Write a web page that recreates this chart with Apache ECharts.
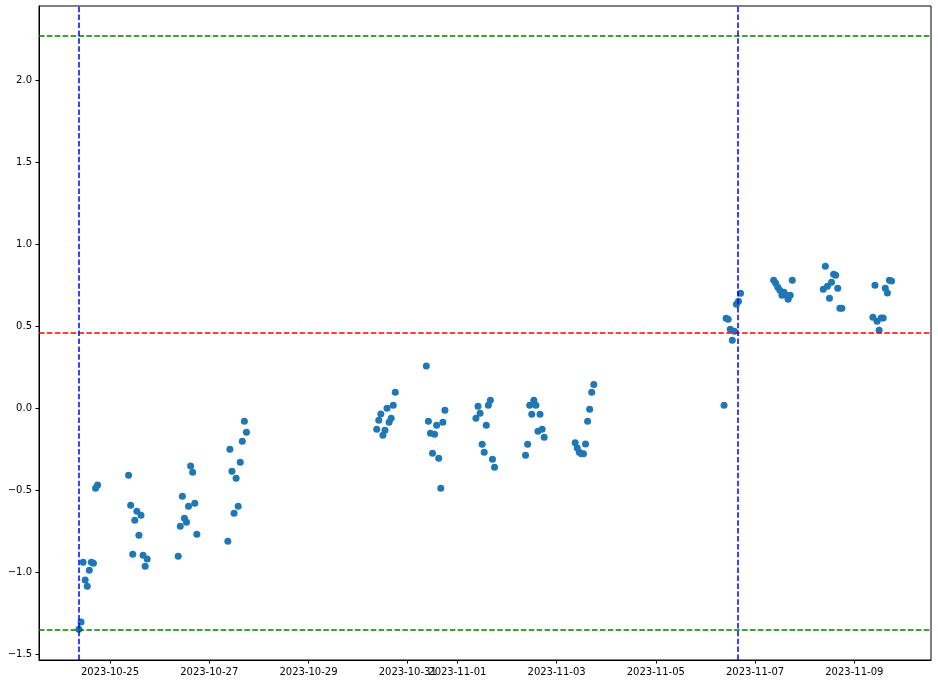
<!DOCTYPE html>
<html>
<head>
<meta charset="utf-8">
<script src="https://cdn.jsdelivr.net/npm/echarts@6/dist/echarts.min.js"></script>
<style>
  html, body { margin: 0; padding: 0; background: #fff; }
  #main { width: 938px; height: 683px; }
</style>
</head>
<body>
<div id="main"></div>
<script>
// trading days, one point per hour from 09:00
var days = ['2023-10-24', '2023-10-25', '2023-10-26', '2023-10-27',
            '2023-10-30', '2023-10-31', '2023-11-01', '2023-11-02', '2023-11-03',
            '2023-11-06', '2023-11-07', '2023-11-08', '2023-11-09'];
var hours = [9, 10, 11, 12, 13, 14, 15, 16, 17, 18];

var values = [
    [-1.35, -1.305, -0.941, -1.049, -1.087, -0.990, -0.941, -0.947, -0.490, -0.470],
    [-0.410, -0.593, -0.892, -0.685, -0.630, -0.776, -0.654, -0.898, -0.965, -0.921],
    [-0.904, -0.721, -0.538, -0.673, -0.697, -0.599, -0.354, -0.392, -0.581, -0.770],
    [-0.813, -0.252, -0.386, -0.642, -0.429, -0.599, -0.331, -0.203, -0.081, -0.148],
    [-0.130, -0.075, -0.037, -0.166, -0.136, -0.002, -0.087, -0.063, 0.016, 0.096],
    [0.256, -0.081, -0.154, -0.276, -0.160, -0.105, -0.307, -0.490, -0.087, -0.014],
    [-0.063, 0.010, -0.032, -0.221, -0.270, -0.105, 0.016, 0.047, -0.313, -0.362],
    [-0.288, -0.221, 0.016, -0.038, 0.047, 0.016, -0.142, -0.038, -0.130, -0.179],
    [-0.213, -0.245, -0.270, -0.280, -0.280, -0.220, -0.081, -0.008, 0.096, 0.143],
    [0.016, 0.547, 0.541, 0.480, 0.413, 0.468, 0.632, 0.651, 0.699],
    [0.779, 0.760, 0.736, 0.718, 0.687, 0.705, 0.687, 0.663, 0.687, 0.779],
    [0.724, 0.864, 0.742, 0.669, 0.766, 0.815, 0.809, 0.730, 0.608, 0.608],
    [0.553, 0.748, 0.529, 0.474, 0.549, 0.549, 0.730, 0.701, 0.779, 0.774]
];

var upperBand = 2.268;
var meanLine = 0.457;
var lowerBand = -1.354;
var markTimes = ['2023-10-24T09:00Z', '2023-11-06T15:45Z'];

var xTicks = ['2023-10-25', '2023-10-27', '2023-10-29', '2023-10-31', '2023-11-01',
              '2023-11-03', '2023-11-05', '2023-11-07', '2023-11-09'];
var yTicks = [-1.5, -1.0, -0.5, 0.0, 0.5, 1.0, 1.5, 2.0];

function utc(s) {
    return Date.parse(s.length == 10 ? s + 'T00:00Z' : s);
}
function pad(n) { return n < 10 ? '0' + n : '' + n; }

var points = [];
days.forEach(function (d, i) {
    values[i].forEach(function (v, j) {
        points.push([utc(d) + hours[j] * 3600e3, v]);
    });
});

var dash = [5.5, 2.4];
var fontStyle = { fontFamily: 'DejaVu Sans', fontSize: 10, color: '#000' };

var myChart = echarts.init(document.getElementById('main'));

var option = {
    animation: false,
    grid: {
        left: 39, right: 7, top: 6, bottom: 23,
        show: true, borderColor: '#000', borderWidth: 1,
        backgroundColor: 'transparent'
    },
    xAxis: {
        type: 'value',
        min: utc('2023-10-23T13:40Z'),
        max: utc('2023-11-10T13:06Z'),
        scale: true,
        splitLine: { show: false },
        axisLine: { onZero: false, lineStyle: { color: '#000', width: 1 } },
        axisTick: {
            show: true, inside: false, length: 3.5, lineStyle: { color: '#000' },
            customValues: xTicks.map(utc)
        },
        axisLabel: Object.assign({
            margin: 7,
            customValues: xTicks.map(utc),
            hideOverlap: false,
            formatter: function (v) {
                var d = new Date(v);
                return d.getUTCFullYear() + '-' + pad(d.getUTCMonth() + 1) + '-' + pad(d.getUTCDate());
            }
        }, fontStyle)
    },
    yAxis: {
        type: 'value',
        min: -1.537,
        max: 2.451,
        splitLine: { show: false },
        axisLine: { show: true, onZero: false, lineStyle: { color: '#000', width: 1 } },
        axisTick: {
            show: true, inside: false, length: 3.5, lineStyle: { color: '#000' },
            customValues: yTicks
        },
        axisLabel: Object.assign({
            margin: 7,
            customValues: yTicks,
            formatter: function (v) {
                return v.toFixed(1).replace('-', '\u2212');
            }
        }, fontStyle)
    },
    series: [
        {
            type: 'scatter',
            data: points,
            symbolSize: 7,
            itemStyle: { color: '#1f77b4', opacity: 1 },
            z: 2
        },
        {
            type: 'scatter',
            data: [],
            z: 3,
            markLine: {
                silent: true,
                symbol: 'none',
                label: { show: false },
                data: [
                    { yAxis: upperBand, lineStyle: { color: '#008000', type: dash, width: 1.5 } },
                    { yAxis: lowerBand, lineStyle: { color: '#008000', type: dash, width: 1.5 } },
                    { yAxis: meanLine, lineStyle: { color: '#ff0000', type: dash, width: 1.5 } },
                    { xAxis: utc(markTimes[0]), lineStyle: { color: '#0000ff', type: dash, width: 1.5 } },
                    { xAxis: utc(markTimes[1]), lineStyle: { color: '#0000ff', type: dash, width: 1.5 } }
                ]
            }
        }
    ]
};

myChart.setOption(option);
</script>
</body>
</html>
